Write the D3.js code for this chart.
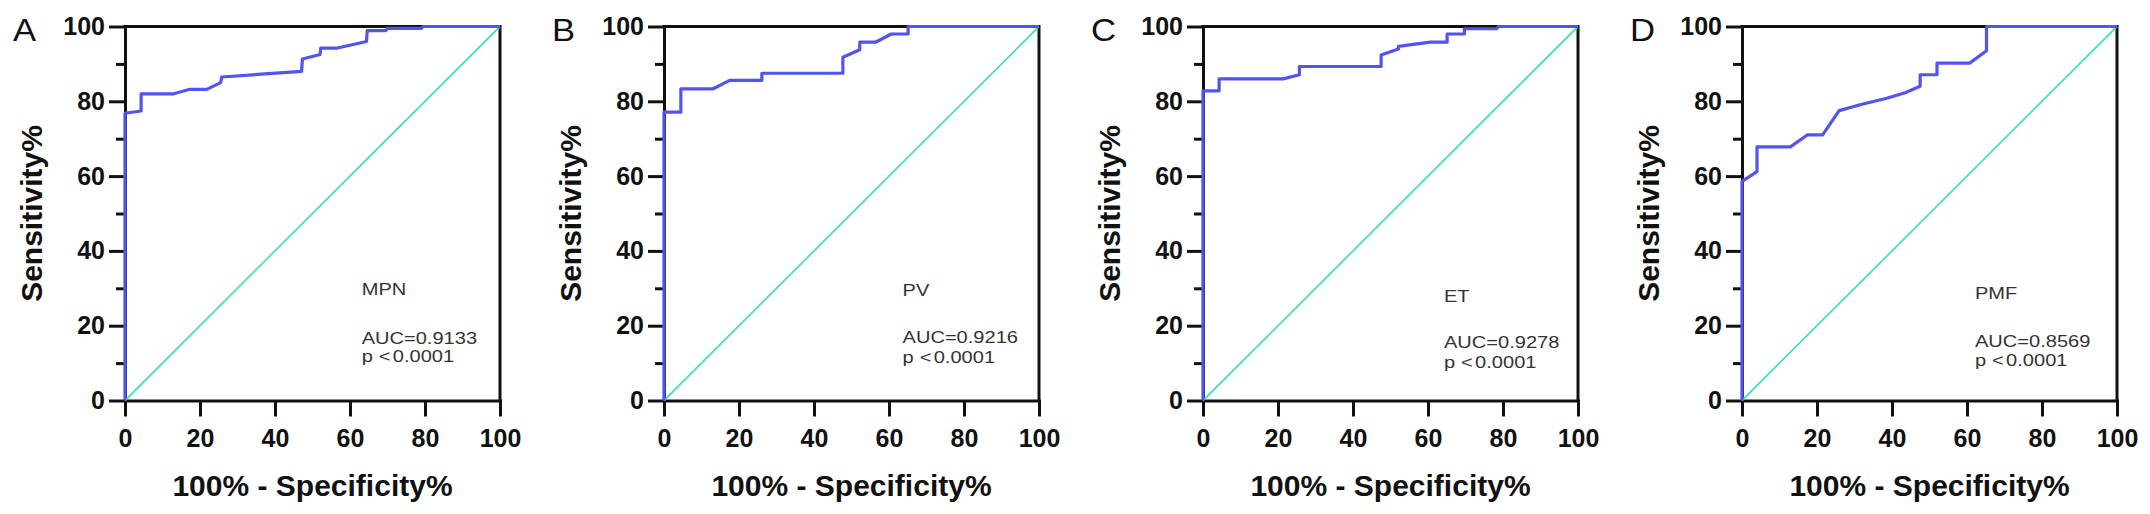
<!DOCTYPE html>
<html>
<head>
<meta charset="utf-8">
<script src="https://cdn.jsdelivr.net/npm/d3@7/dist/d3.min.js"></script>
<style>
  html, body { margin: 0; padding: 0; background: #fff; }
  svg { display: block; }
</style>
</head>
<body>
<svg id="chart" width="2150" height="514"></svg>
<script>
// ---------------- data ----------------
const panelLetters = ["A", "B", "C", "D"];
const groupNames = ["MPN", "PV", "ET", "PMF"];
const aucLabels = ["AUC=0.9133", "AUC=0.9216", "AUC=0.9278", "AUC=0.8569"];
const pLabels = ["p<0.0001", "p<0.0001", "p<0.0001", "p<0.0001"];
const xTicks = [0, 20, 40, 60, 80, 100];
const yTicks = [0, 20, 40, 60, 80, 100];
const yMinorTicks = [10, 30, 50, 70, 90];
const xTitle = "100% - Specificity%";
const yTitle = "Sensitivity%";

// ROC curves: [100% - specificity, sensitivity]
const rocMPN = [[0,0],[0,76.8],[4.3,77.4],[4.3,82],[13,82],[17.3,83.2],[21.8,83.2],[25.5,85],[25.8,86.5],[47.1,88],[47.3,91.3],[52,92.5],[52.2,94.2],[56.4,94.2],[64.4,96],[64.6,98.9],[69.6,98.9],[69.9,99.5],[79,99.5],[79.5,100],[100,100]];
const rocPV  = [[0,0],[0,77.1],[4.5,77.1],[4.5,83.3],[13,83.3],[17.5,85.6],[26.1,85.6],[26.1,87.5],[47.7,87.5],[47.7,91.8],[52.2,93.8],[52.2,95.8],[56.4,95.8],[60.6,98],[65.1,98],[65.1,100],[100,100]];
const rocET  = [[0,0],[0,82.8],[4.3,82.8],[4.3,86],[21.4,86],[25.7,87.1],[25.7,89.3],[47.5,89.3],[47.5,92.4],[52.1,94],[52.1,94.7],[60.6,95.8],[65.1,95.8],[65.1,98],[69.7,98],[69.7,99.4],[78.3,99.4],[78.8,100],[100,100]];
const rocPMF = [[0,0],[0,58.6],[4,61.2],[4,67.8],[12.9,67.8],[17.4,71],[21.5,71],[25.9,77.5],[32,79.2],[38.6,80.8],[43.5,82.3],[47.5,84],[47.5,87.1],[52,87.1],[52,90.2],[60.7,90.2],[65.2,93.5],[65.2,100],[100,100]];
const rocCurves = [rocMPN, rocPV, rocET, rocPMF];
const chanceLine = [[0,0],[100,100]];

// ---------------- layout ----------------
const panelOrigins = [125, 664, 1203, 1742];
const plotW = 375, plotTop = 26.5, plotBottom = 400.5;
// annotation layout per panel: [x offset from plot left, baseline name, auc, p]
const annotLayout = [
  [236.7, 295, 344, 362],
  [238.6, 296, 343, 363],
  [241, 301.5, 347.5, 368],
  [233, 298.5, 346.5, 366]
];
const FONT = "'Liberation Sans', Arial, Helvetica, sans-serif";
const curveColor = "#5353f0";
const diagColor = "#48e0b8";

const svg = d3.select("#chart");

panelLetters.forEach((letter, i) => {
  const x0 = panelOrigins[i];
  const x = d3.scaleLinear().domain([0, 100]).range([x0, x0 + plotW]);
  const y = d3.scaleLinear().domain([0, 100]).range([plotBottom, plotTop]);
  const g = svg.append("g");

  // frame (top & right)
  g.append("path")
    .attr("d", `M${x(0)},${y(100)}H${x(100)}V${y(0)}`)
    .attr("fill", "none").attr("stroke", "#111").attr("stroke-width", 3)
    .attr("stroke-linecap", "square");

  // x axis
  const gx = g.append("g").attr("transform", `translate(0,${y(0)})`)
    .call(d3.axisBottom(x).tickValues(xTicks).tickSize(16).tickSizeOuter(0).tickPadding(13));
  // y minor ticks
  const gym = g.append("g").attr("transform", `translate(${x(0)},0)`)
    .call(d3.axisLeft(y).tickValues(yMinorTicks).tickSize(9).tickSizeOuter(0).tickFormat(""));
  gym.select(".domain").remove();
  // y axis
  const gy = g.append("g").attr("transform", `translate(${x(0)},0)`)
    .call(d3.axisLeft(y).tickValues(yTicks).tickSize(16).tickSizeOuter(0).tickPadding(4));

  [gx, gy, gym].forEach(a => {
    a.selectAll(".domain").attr("stroke", "#111").attr("stroke-width", 3).attr("stroke-linecap", "square");
    a.selectAll(".tick line").attr("stroke", "#111").attr("stroke-width", 3);
    a.selectAll(".tick text")
      .attr("fill", "#111")
      .style("font-family", FONT)
      .style("font-size", "25px")
      .style("font-weight", "bold");
  });

  // chance diagonal
  const line = d3.line().x(d => x(d[0])).y(d => y(d[1]));
  g.append("path").datum(chanceLine)
    .attr("d", line).attr("fill", "none")
    .attr("stroke", diagColor).attr("stroke-width", 1.8);

  // ROC curve
  g.append("path").datum(rocCurves[i])
    .attr("d", line).attr("fill", "none")
    .attr("stroke", curveColor).attr("stroke-width", 3.2)
    .attr("stroke-linejoin", "round");

  // axis titles
  g.append("text")
    .attr("x", (x(0) + x(100)) / 2).attr("y", 495.5)
    .attr("text-anchor", "middle")
    .style("font-family", FONT).style("font-size", "30px").style("font-weight", "bold")
    .attr("fill", "#111").text(xTitle);

  g.append("text")
    .attr("transform", `translate(${x0 - 83},${(y(0) + y(100)) / 2}) rotate(-90)`)
    .attr("text-anchor", "middle")
    .style("font-family", FONT).style("font-size", "30px").style("font-weight", "bold")
    .attr("fill", "#111").text(yTitle);

  // panel letter
  g.append("text")
    .attr("transform", `translate(${x0 - 112},41) scale(1.12,1)`)
    .style("font-family", FONT).style("font-size", "31px")
    .attr("fill", "#111").text(letter);

  // annotations
  const L = annotLayout[i];
  const ax = x0 + L[0];
  const annot = (baseline, build) => {
    const t = g.append("text")
      .attr("transform", `translate(${ax},${baseline}) scale(1.18,1)`)
      .style("font-family", FONT).style("font-size", "17px")
      .attr("fill", "#333");
    build(t);
  };
  annot(L[1], t => t.text(groupNames[i]));
  annot(L[2], t => t.text(aucLabels[i]));
  annot(L[3], t => {
    const s = pLabels[i];
    t.append("tspan").text(s.slice(0, 1));
    t.append("tspan").attr("dx", 5).text(s.slice(1, 2));
    t.append("tspan").attr("dx", 2).text(s.slice(2));
  });
});
</script>
</body>
</html>
